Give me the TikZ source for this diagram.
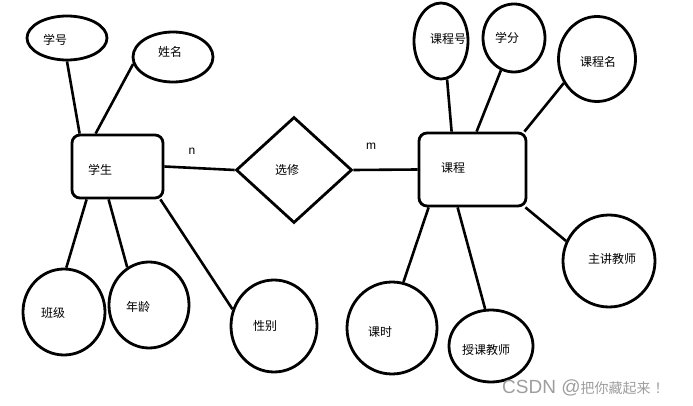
\documentclass[tikz,border=0pt]{standalone}
\usepackage{fontspec}
\setmainfont{Liberation Sans}
\newfontfamily\cjk{Noto Sans CJK SC}
\usetikzlibrary{shapes.geometric}
\tikzset{
  attr/.style={draw, ellipse, line width=2.8pt, inner sep=0pt},
  ent/.style={draw, rectangle, rounded corners=8pt, line width=2.8pt, inner sep=0pt},
  rel/.style={draw, diamond, line width=2.8pt, inner sep=0pt},
  lbl/.style={font=\cjk\fontsize{12pt}{14pt}\selectfont, inner sep=0pt},
  card/.style={font=\fontsize{12pt}{14pt}\selectfont, inner sep=0pt},
  conn/.style={line width=2.6pt}
}
\begin{document}
\begin{tikzpicture}[x=1pt,y=-1pt]
\fill[white] (0,0) rectangle (693,406);
\useasboundingbox (0,0) rectangle (693,406);
% entities
\node[ent, minimum width=91pt, minimum height=63pt] (xs) at (117.5,166.5) {};
\node[lbl] at (100,170) (txs) {学生};
\node[ent, minimum width=107pt, minimum height=73pt] (kc) at (472.5,169.5) {};
\node[lbl] at (453,168) (tkc) {课程};
% relation
\node[rel, minimum width=116pt, minimum height=106pt] (xx) at (294,170) {};
\node[lbl] at (287,170) (txx) {选修};
% student attributes
\node[attr, minimum width=80pt, minimum height=44pt] (xh) at (67,38) {};
\node[lbl] at (55,40) (txh) {学号};
\node[attr, minimum width=80pt, minimum height=50pt] (xm) at (173,57) {};
\node[lbl] at (170,52) (txm) {姓名};
\node[attr, minimum width=82pt, minimum height=86pt] (bj) at (64,312) {};
\node[lbl] at (53,313) (tbj) {班级};
\node[attr, minimum width=80pt, minimum height=86pt] (nl) at (149,305) {};
\node[lbl] at (138,307) (tnl) {年龄};
\node[attr, minimum width=86pt, minimum height=92pt] (xb) at (274,326) {};
\node[lbl] at (265,326) (txb) {性别};
% course attributes
\node[attr, minimum width=54pt, minimum height=76pt] (kch) at (441,41) {};
\node[lbl] at (448,39) (tkch) {课程号};
\node[attr, minimum width=62pt, minimum height=68pt] (xf) at (514,38) {};
\node[lbl] at (507,38) (txf) {学分};
\node[attr, minimum width=77pt, minimum height=85pt] (kcm) at (597,59) {};
\node[lbl] at (598,62) (tkcm) {课程名};
\node[attr, minimum width=90pt, minimum height=92pt] (ks) at (392,328) {};
\node[lbl] at (380,332) (tks) {课时};
\node[attr, minimum width=84pt, minimum height=72pt] (sk) at (491,346) {};
\node[lbl] at (486,350) (tsk) {授课教师};
\node[attr, minimum width=92pt, minimum height=92pt] (zj) at (609,261) {};
\node[lbl] at (612,259) (tzj) {主讲教师};
% cardinalities
\node[card] at (192,151) (n) {n};
\node[card] at (371,146) (m) {m};
% connectors
\draw[conn] (xs.east) -- (xx.west);
\draw[conn] (xx.east) -- (kc.west);
\draw[conn] (xh.south) -- ([xshift=9pt]xs.north west);
\draw[conn] (xm.190) -- ([xshift=25pt]xs.north west);
\draw[conn] ([xshift=16pt]xs.south west) -- (bj.87);
\draw[conn] ([xshift=38pt]xs.south west) -- (nl.120);
\draw[conn] ([xshift=-4pt]xs.south east) -- (xb.158);
\draw[conn] (kch.279) -- ([xshift=34pt]kc.north west);
\draw[conn] (xf.248) -- ([xshift=59pt]kc.north west);
\draw[conn] (kcm.216) -- ([xshift=-3pt]kc.north east);
\draw[conn] ([xshift=11pt]kc.south west) -- (ks.76);
\draw[conn] ([xshift=40pt]kc.south west) -- (sk.99);
\draw[conn] ([xshift=-2pt]kc.south east) -- (zj.155);
% watermark
\node[text=black!38, anchor=west, inner sep=0pt] (wm) at (502,388) {\fontsize{19pt}{21pt}\selectfont CSDN @\cjk\fontsize{14pt}{16pt}\selectfont 把你藏起来\hspace{4pt}！};
\end{tikzpicture}
\end{document}
